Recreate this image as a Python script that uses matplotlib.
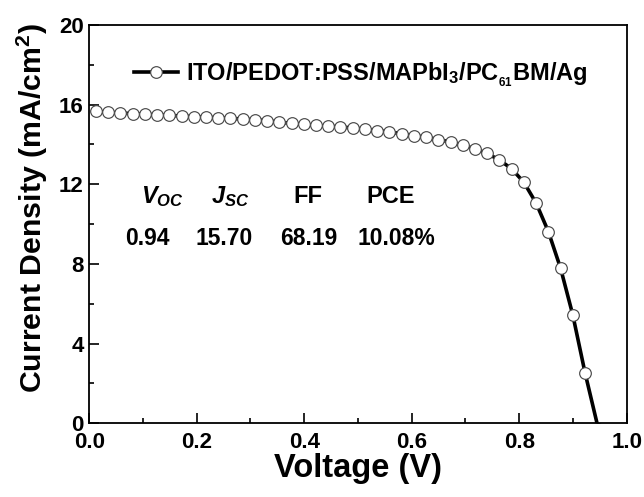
import matplotlib
matplotlib.use("Agg")
import matplotlib.pyplot as plt
from matplotlib.ticker import MultipleLocator

plt.rcParams['font.family'] = ['Liberation Sans', 'DejaVu Sans']
plt.rcParams['font.weight'] = 'bold'
plt.rcParams['mathtext.fontset'] = 'custom'
plt.rcParams['mathtext.rm'] = 'Liberation Sans:bold'
plt.rcParams['mathtext.bf'] = 'Liberation Sans:bold'
plt.rcParams['mathtext.it'] = 'Liberation Sans:bold:italic'
plt.rcParams['mathtext.default'] = 'regular'

# Data (voltage in V, current density in mA/cm^2)
voltage = [0.0125 + i * 0.02275 for i in range(41)] + [0.9475]
current = [15.66, 15.62, 15.58, 15.55, 15.52, 15.49, 15.46, 15.43, 15.40, 15.37,
           15.34, 15.31, 15.28, 15.24, 15.20, 15.12, 15.06, 15.01, 14.96, 14.92,
           14.88, 14.83, 14.77, 14.70, 14.63, 14.54, 14.45, 14.36, 14.25, 14.12,
           13.97, 13.78, 13.55, 13.22, 12.78, 12.10, 11.06, 9.63, 7.79, 5.44,
           2.54, -0.30]
series_label = r"ITO/PEDOT:PSS/MAPbI$_\mathbf{3}$/PC$_{_\mathbf{61}}$BM/Ag"

param_names = [r"$\mathit{V_{OC}}$", r"$\mathit{J_{SC}}$", "FF", "PCE"]
param_values = ["0.94", "15.70", "68.19", "10.08%"]
param_name_x = [0.136, 0.262, 0.407, 0.56]
param_value_x = [0.108, 0.251, 0.408, 0.572]

xticks = [0.0, 0.2, 0.4, 0.6, 0.8, 1.0]
yticks = [0, 4, 8, 12, 16, 20]

fig = plt.figure(figsize=(6.44, 4.97), dpi=100)
ax = fig.add_axes([0.1385, 0.1483, 0.8346, 0.8014])

ax.plot(voltage, current, color='black', lw=2.6, marker='o', ms=8.4,
        mfc='white', mec='#4a4a4a', mew=0.85, label=series_label)

ax.set_xlim(0, 1.0)
ax.set_ylim(0, 20)
ax.set_xticks(xticks)
ax.set_yticks(yticks)
ax.set_xticklabels([f"{t:.1f}" for t in xticks])
ax.set_yticklabels([str(t) for t in yticks])
ax.xaxis.set_minor_locator(MultipleLocator(0.1))
ax.yaxis.set_minor_locator(MultipleLocator(2))
ax.tick_params(which='both', direction='in', top=False, right=False)
ax.tick_params(which='major', length=7, width=1.2, labelsize=16, pad=4)
ax.tick_params(axis='x', which='major', pad=6)
ax.tick_params(which='minor', length=3.5, width=1.2)
for lab in ax.get_xticklabels() + ax.get_yticklabels():
    lab.set_fontweight('bold')
for s in ax.spines.values():
    s.set_linewidth(1.3)

ax.set_xlabel("Voltage (V)", fontsize=23.5, fontweight='bold', labelpad=0)
ax.set_ylabel(r"Current Density (mA/cm$^\mathbf{2}$)", fontsize=21.8, fontweight='bold')
ax.yaxis.set_label_coords(-0.073, 0.54)

for name, xn in zip(param_names, param_name_x):
    ax.text(xn, 11.07, name, fontsize=17, fontweight='bold', ha='center', va='baseline')
for val, xv in zip(param_values, param_value_x):
    ax.text(xv, 8.96, val, fontsize=16.5, fontweight='bold', ha='center', va='baseline')

leg = ax.legend(loc='upper left', bbox_to_anchor=(0.065, 0.935), frameon=False,
                prop={'size': 17, 'weight': 'bold'}, handlelength=1.9,
                handletextpad=0.3, borderaxespad=0)

fig.savefig("out.png", dpi=100)
